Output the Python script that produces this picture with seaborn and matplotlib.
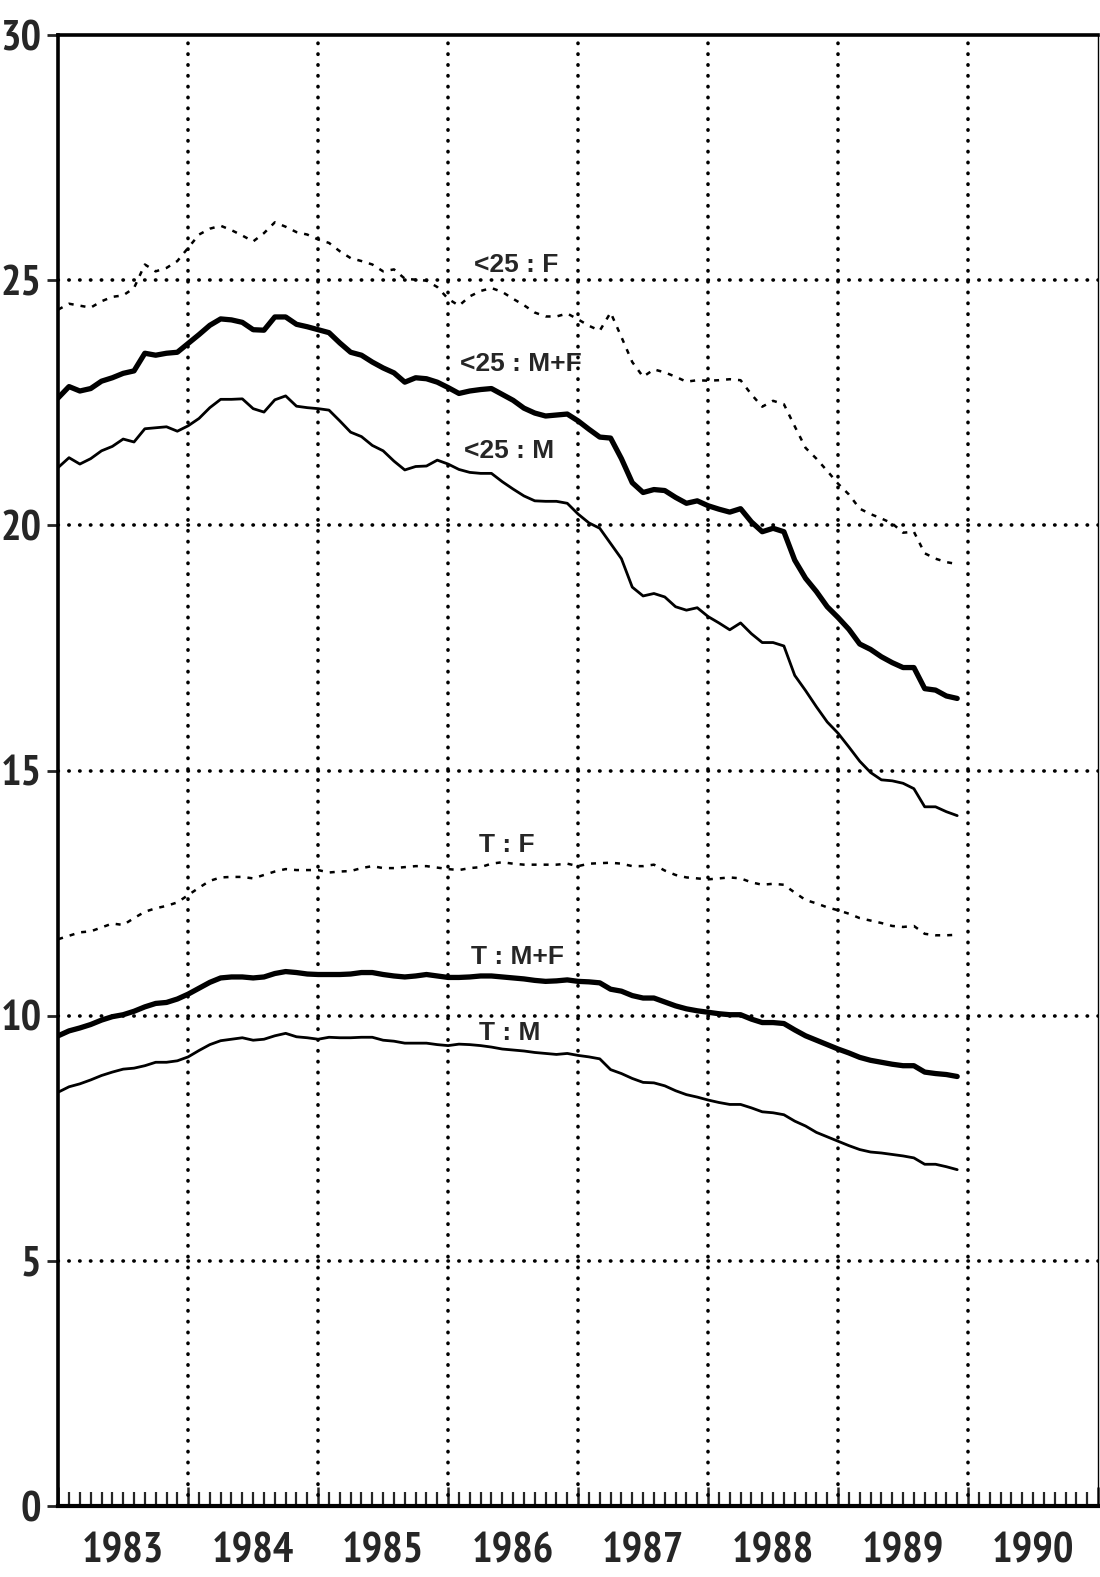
import numpy as np
import pandas as pd
import seaborn as sns
import matplotlib
matplotlib.use("Agg")
from matplotlib import pyplot as plt
from matplotlib import font_manager
from matplotlib import transforms

# monthly series, Jan 1983 .. Dec 1989
start_year = 1983
n_months = 84

f_25 = [24.40, 24.52, 24.48, 24.44, 24.57, 24.66, 24.69, 24.84, 25.32, 25.18, 25.25, 25.39,
        25.66, 25.93, 26.05, 26.11, 26.02, 25.91, 25.79, 25.96, 26.18, 26.09, 25.98, 25.93,
        25.83, 25.76, 25.59, 25.45, 25.39, 25.32, 25.18, 25.22, 25.03, 25.01, 24.99, 24.86,
        24.62, 24.48, 24.67, 24.78, 24.84, 24.76, 24.62, 24.49, 24.34, 24.26, 24.26, 24.32,
        24.20, 24.07, 23.97, 24.34, 23.84, 23.33, 23.03, 23.18, 23.12, 23.03, 22.93, 22.96,
        22.95, 22.96, 22.98, 22.96, 22.67, 22.42, 22.54, 22.47, 22.02, 21.58, 21.36, 21.11,
        20.85, 20.63, 20.34, 20.23, 20.14, 20.04, 19.85, 19.87, 19.43, 19.32, 19.25, 19.21]

mf_25 = [22.60, 22.83, 22.74, 22.79, 22.94, 23.01, 23.10, 23.15, 23.51, 23.47, 23.51, 23.53,
         23.71, 23.89, 24.08, 24.21, 24.19, 24.14, 23.99, 23.98, 24.25, 24.25, 24.10, 24.05,
         23.99, 23.93, 23.72, 23.53, 23.47, 23.33, 23.21, 23.11, 22.92, 23.01, 22.99, 22.92,
         22.81, 22.69, 22.74, 22.77, 22.79, 22.67, 22.55, 22.39, 22.29, 22.23, 22.25, 22.27,
         22.13, 21.96, 21.80, 21.78, 21.36, 20.87, 20.67, 20.73, 20.71, 20.57, 20.45, 20.50,
         20.40, 20.33, 20.27, 20.34, 20.07, 19.87, 19.94, 19.87, 19.29, 18.92, 18.65, 18.34,
         18.12, 17.88, 17.58, 17.47, 17.32, 17.20, 17.10, 17.10, 16.67, 16.64, 16.52, 16.47]

m_25 = [21.18, 21.38, 21.25, 21.36, 21.52, 21.61, 21.76, 21.70, 21.97, 21.99, 22.01, 21.92,
        22.03, 22.18, 22.40, 22.57, 22.57, 22.58, 22.38, 22.31, 22.56, 22.64, 22.43, 22.40,
        22.38, 22.35, 22.13, 21.90, 21.81, 21.63, 21.52, 21.31, 21.13, 21.20, 21.21, 21.33,
        21.25, 21.14, 21.08, 21.06, 21.06, 20.89, 20.74, 20.60, 20.50, 20.49, 20.49, 20.45,
        20.23, 20.05, 19.94, 19.63, 19.32, 18.74, 18.56, 18.61, 18.54, 18.34, 18.27, 18.32,
        18.14, 18.01, 17.87, 18.01, 17.79, 17.61, 17.61, 17.54, 16.94, 16.63, 16.30, 15.99,
        15.76, 15.48, 15.19, 14.96, 14.81, 14.79, 14.74, 14.63, 14.26, 14.26, 14.16, 14.08]

f_tot = [11.56, 11.63, 11.70, 11.72, 11.80, 11.88, 11.85, 11.99, 12.12, 12.19, 12.24, 12.31,
         12.46, 12.61, 12.75, 12.82, 12.83, 12.83, 12.80, 12.87, 12.94, 12.99, 12.97, 12.97,
         12.97, 12.92, 12.94, 12.95, 13.01, 13.05, 13.01, 13.01, 13.03, 13.05, 13.05, 13.02,
         12.99, 12.97, 13.01, 13.03, 13.10, 13.13, 13.10, 13.08, 13.08, 13.08, 13.08, 13.10,
         13.05, 13.10, 13.11, 13.12, 13.10, 13.05, 13.05, 13.08, 12.96, 12.87, 12.82, 12.80,
         12.78, 12.80, 12.82, 12.80, 12.72, 12.67, 12.69, 12.67, 12.51, 12.36, 12.29, 12.21,
         12.15, 12.08, 11.99, 11.94, 11.89, 11.83, 11.81, 11.83, 11.67, 11.64, 11.64, 11.65]

mf_tot = [9.59, 9.69, 9.75, 9.82, 9.91, 9.98, 10.02, 10.09, 10.18, 10.25, 10.27, 10.34,
          10.44, 10.56, 10.68, 10.77, 10.79, 10.79, 10.77, 10.79, 10.86, 10.90, 10.88, 10.85,
          10.84, 10.84, 10.84, 10.85, 10.88, 10.88, 10.84, 10.81, 10.79, 10.81, 10.84, 10.81,
          10.78, 10.78, 10.79, 10.81, 10.81, 10.79, 10.77, 10.75, 10.72, 10.70, 10.71, 10.73,
          10.70, 10.69, 10.67, 10.54, 10.50, 10.41, 10.36, 10.36, 10.28, 10.20, 10.14, 10.10,
          10.07, 10.04, 10.02, 10.02, 9.93, 9.86, 9.86, 9.84, 9.71, 9.59, 9.50, 9.41,
          9.32, 9.24, 9.15, 9.09, 9.05, 9.01, 8.98, 8.98, 8.85, 8.82, 8.80, 8.76]

m_tot = [8.44, 8.55, 8.61, 8.69, 8.78, 8.85, 8.91, 8.93, 8.98, 9.05, 9.05, 9.08,
         9.16, 9.29, 9.41, 9.49, 9.52, 9.55, 9.50, 9.52, 9.59, 9.64, 9.57, 9.55,
         9.52, 9.56, 9.55, 9.55, 9.56, 9.56, 9.50, 9.48, 9.44, 9.44, 9.44, 9.41,
         9.39, 9.42, 9.41, 9.39, 9.36, 9.32, 9.30, 9.28, 9.25, 9.23, 9.21, 9.23,
         9.19, 9.16, 9.12, 8.90, 8.82, 8.72, 8.64, 8.63, 8.57, 8.47, 8.39, 8.34,
         8.28, 8.23, 8.19, 8.19, 8.12, 8.04, 8.02, 7.98, 7.85, 7.75, 7.62, 7.53,
         7.44, 7.35, 7.27, 7.22, 7.20, 7.17, 7.14, 7.10, 6.97, 6.97, 6.92, 6.86]

series_labels = ["<25 : F", "<25 : M+F", "<25 : M", "T : F", "T : M+F", "T : M"]
label_x = [1986.52, 1986.56, 1986.47, 1986.45, 1986.53, 1986.47]
label_y = [25.30, 23.29, 21.51, 13.49, 11.19, 9.65]

year_labels = ["1983", "1984", "1985", "1986", "1987", "1988", "1989", "1990"]

# fonts: look for a narrow / condensed face for the tall tick numbers
sns.set_style("ticks")
narrow_file = None
for key in ["Narrow", "Condensed", "Cond"]:
    cands = [f for f in font_manager.fontManager.ttflist
             if key in f.fname and f.style == "normal"]
    bold = [f for f in cands if "Bold" in f.fname and "Italic" not in f.fname]
    pick = bold or cands
    if pick:
        narrow_file = pick[0].fname
        break
if narrow_file:
    tick_prop = font_manager.FontProperties(fname=narrow_file, size=31)
else:
    tick_prop = font_manager.FontProperties(family="DejaVu Sans", weight="bold", size=22)

names = {f.name for f in font_manager.fontManager.ttflist}
label_font = "Liberation Sans" if "Liberation Sans" in names else "DejaVu Sans"
plt.rcParams["font.family"] = [label_font, "DejaVu Sans"]

t = start_year + np.arange(n_months) / 12.0
df = pd.DataFrame({"t": t, "f_25": f_25, "mf_25": mf_25, "m_25": m_25,
                   "f_tot": f_tot, "mf_tot": mf_tot, "m_tot": m_tot})

fig = plt.figure(figsize=(11, 15.77), dpi=100)
ax = fig.add_axes([0.0529, 0.045, 0.9453, 0.9328])

dotted = (0, (2.0, 2.8))
styles = {
    "f_25": dict(linewidth=1.8, linestyle=dotted),
    "mf_25": dict(linewidth=3.8, linestyle="-"),
    "m_25": dict(linewidth=2.0, linestyle="-"),
    "f_tot": dict(linewidth=1.8, linestyle=dotted),
    "mf_tot": dict(linewidth=3.8, linestyle="-"),
    "m_tot": dict(linewidth=2.0, linestyle="-"),
}
for col, kw in styles.items():
    sns.lineplot(data=df, x="t", y=col, ax=ax, color="black", zorder=3, **kw)

ax.set_xlim(1983, 1991)
ax.set_ylim(0, 30)
ax.set_xlabel("")
ax.set_ylabel("")

# grid: dotted lines at years and every 5 units
grid_kw = dict(color="black", linewidth=2.6, linestyle=(0, (0.1, 2.9)),
               dash_capstyle="round", zorder=1)
for yr in range(1984, 1991):
    ax.axvline(yr, **grid_kw)
for yv in range(5, 30, 5):
    ax.axhline(yv, **grid_kw)

# ticks
ax.set_yticks(range(0, 31, 5))
ax.tick_params(axis="y", which="major", direction="out", length=8, width=2, pad=4)
ax.set_xticks(range(1983, 1992))
ax.set_xticks(start_year + np.arange(0, 97) / 12.0, minor=True)
ax.set_xticklabels([])
ax.tick_params(axis="x", which="major", direction="in", length=14, width=1.8)
ax.tick_params(axis="x", which="minor", direction="in", length=10, width=1.6)
for lab in ax.get_yticklabels():
    lab.set_fontproperties(tick_prop)

trans = transforms.blended_transform_factory(ax.transData, ax.transAxes)
for i, yl in enumerate(year_labels):
    ax.text(start_year + i + 0.5, -0.031, yl, transform=trans, ha="center", va="center",
            fontproperties=tick_prop)

for lab, lx, ly in zip(series_labels, label_x, label_y):
    ax.text(lx, ly, lab, ha="center", va="center", fontsize=19, fontweight="bold",
            zorder=4)

for side, lw in [("left", 2.6), ("bottom", 3.0), ("top", 2.6), ("right", 1.0)]:
    ax.spines[side].set_visible(True)
    ax.spines[side].set_linewidth(lw)
    ax.spines[side].set_color("black")

fig.savefig("out.png", dpi=100, facecolor="white")
